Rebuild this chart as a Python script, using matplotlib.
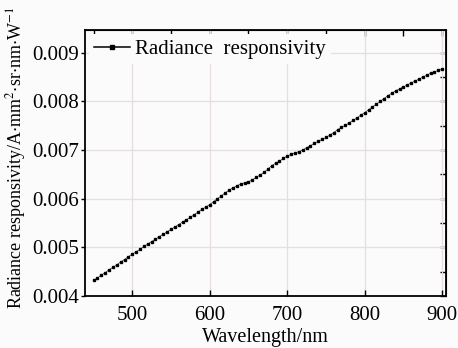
import matplotlib
matplotlib.use('Agg')
from matplotlib import pyplot as plt
from matplotlib.ticker import FormatStrFormatter, MultipleLocator

plt.rcParams['font.family'] = ['Liberation Serif', 'DejaVu Serif']
plt.rcParams['mathtext.fontset'] = 'stix'

# wavelength (nm) and radiance responsivity
wavelength = list(range(450, 905, 5))
responsivity = [
    0.00432, 0.00437, 0.00443, 0.00448, 0.00454, 0.00459, 0.00464, 0.00470, 0.00475, 0.00481,
    0.00486, 0.00491, 0.00496, 0.00502, 0.00507, 0.00512, 0.00517, 0.00522, 0.00527, 0.00532,
    0.00537, 0.00542, 0.00547, 0.00552, 0.00557, 0.00562, 0.00567, 0.00573, 0.00578, 0.00583,
    0.00588, 0.00594, 0.00600, 0.00606, 0.00612, 0.00618, 0.00622, 0.00627, 0.00630, 0.00633,
    0.00635, 0.00639, 0.00644, 0.00649, 0.00654, 0.00661, 0.00668, 0.00673, 0.00677, 0.00683,
    0.00688, 0.00691, 0.00694, 0.00697, 0.00700, 0.00705, 0.00709, 0.00714, 0.00718, 0.00722,
    0.00726, 0.00731, 0.00736, 0.00742, 0.00747, 0.00751, 0.00756, 0.00761, 0.00766, 0.00772,
    0.00777, 0.00783, 0.00789, 0.00794, 0.00800, 0.00806, 0.00812, 0.00817, 0.00822, 0.00826,
    0.00830, 0.00834, 0.00838, 0.00842, 0.00846, 0.00850, 0.00854, 0.00858, 0.00861, 0.00864,
    0.00866,
]
x_ticks = [500, 600, 700, 800, 900]
y_ticks = [0.004, 0.005, 0.006, 0.007, 0.008, 0.009]

fig = plt.figure(figsize=(4.58, 3.48), dpi=100, facecolor='#fbfbfb')
ax = fig.add_axes([0.1856, 0.1494, 0.7882, 0.7644])
ax.set_facecolor('#fbfbfb')

ax.plot(wavelength, responsivity, color='black', marker='s', markersize=2.0,
        linewidth=0.4, label='Radiance  responsivity')

ax.set_xlim(439, 905)
ax.set_ylim(0.004, 0.00947)
ax.set_xticks(x_ticks)
ax.set_yticks(y_ticks)
ax.yaxis.set_major_formatter(FormatStrFormatter('%.3f'))
ax.grid(True, color='#e6dede', linewidth=0.9)
ax.set_axisbelow(True)

for s in ax.spines.values():
    s.set_linewidth(1.3)
ax.tick_params(axis='x', direction='in', length=4, width=1, labelsize=15, pad=7)
ax.tick_params(axis='y', direction='out', length=3, width=1, labelsize=15, pad=1.5)

# inward ticks on top and right
top = ax.secondary_xaxis('top')
top.xaxis.set_major_locator(MultipleLocator(50))
top.tick_params(direction='in', length=4, width=1, labeltop=False)
right = ax.secondary_yaxis('right')
right.yaxis.set_major_locator(MultipleLocator(0.0005))
right.tick_params(direction='in', length=4, width=1, labelright=False)

ax.set_xlabel('Wavelength/nm', fontsize=14.5, labelpad=2)
ax.set_ylabel('Radiance responsivity/A$\\cdot$mm$^2$$\\cdot$sr$\\cdot$nm$\\cdot$W$^{-1}$',
              fontsize=13)
ax.yaxis.set_label_coords(-0.158, 0.52)

leg = ax.legend(loc='upper left', fontsize=15, frameon=True, fancybox=False,
                handlelength=1.7, handletextpad=0.25, borderaxespad=0.2,
                borderpad=0.25, markerscale=1.2)
leg.get_frame().set_edgecolor('none')
leg.get_frame().set_facecolor('#fbfbfb')
leg.get_frame().set_alpha(1)
leg.get_lines()[0].set_linewidth(1.1)

fig.savefig('out.png', dpi=100, facecolor=fig.get_facecolor())
